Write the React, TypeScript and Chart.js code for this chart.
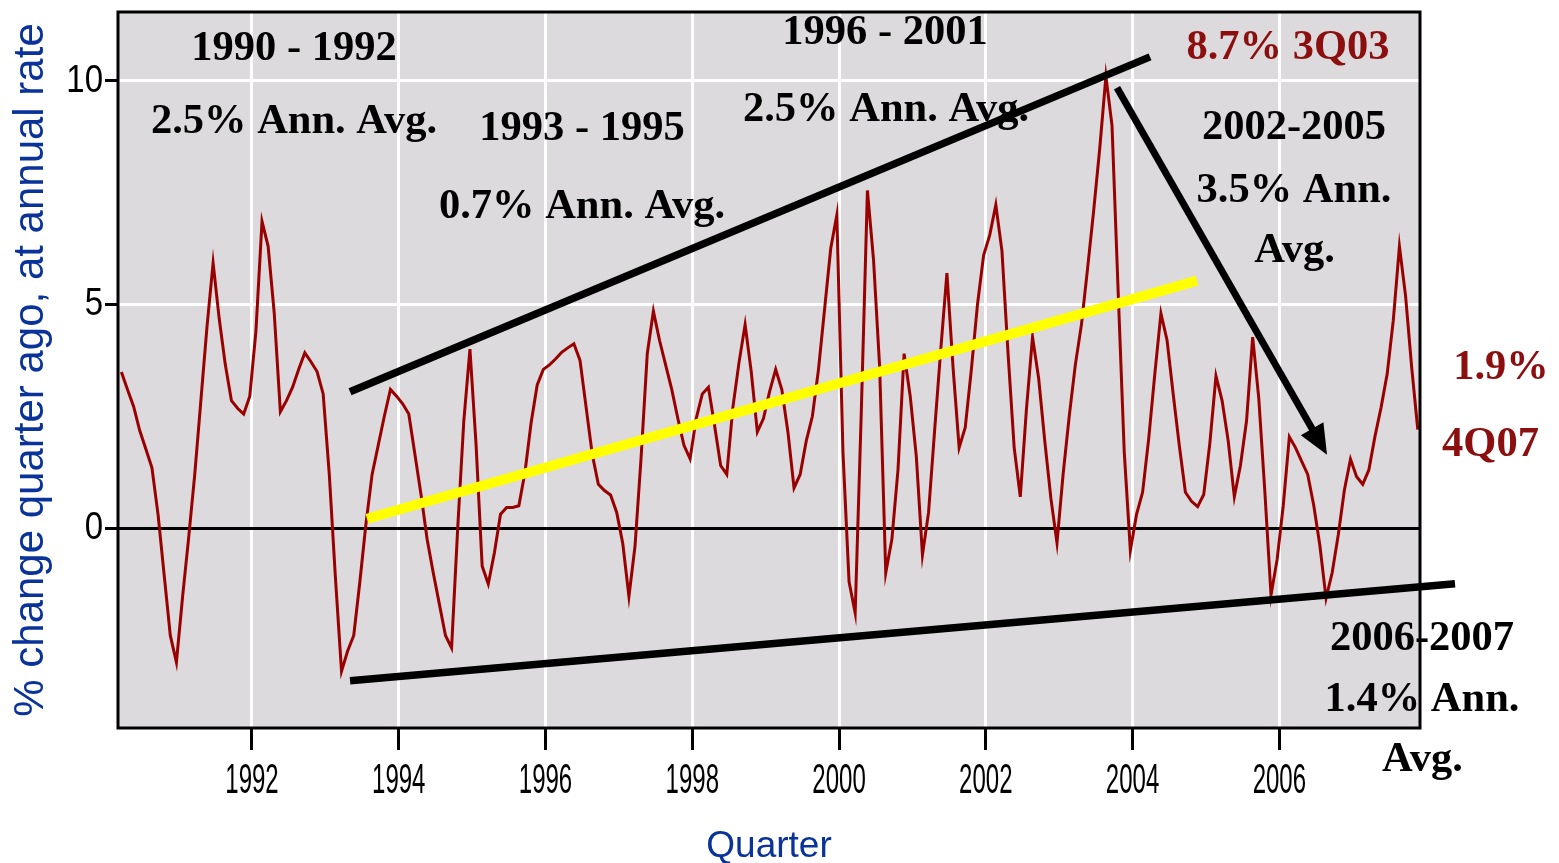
import React, { useEffect, useRef } from 'react';
import { Chart, registerables } from 'chart.js';

Chart.register(...registerables);

// ---- data -------------------------------------------------------------
const START_YEAR = 1990.22; // first monthly observation (decimal year)

const GROWTH: number[] = [
  3.49, 3.1, 2.72, 2.18, 1.77, 1.35, 0.3, -1.05, -2.4, -3.0,
  -1.55, -0.22, 1.2, 2.85, 4.5, 5.93, 4.68, 3.65, 2.85, 2.68,
  2.55, 2.95, 4.4, 6.86, 6.3, 4.8, 2.6, 2.85, 3.15, 3.55,
  3.92, 3.72, 3.5, 3.0, 1.2, -1.1, -3.2, -2.75, -2.4, -1.2,
  0.1, 1.2, 1.85, 2.5, 3.1, 2.95, 2.78, 2.55, 1.65, 0.75,
  -0.25, -1.0, -1.7, -2.4, -2.68, 0.0, 2.4, 4.0, 1.87, -0.85,
  -1.25, -0.55, 0.31, 0.46, 0.46, 0.5, 1.25, 2.35, 3.2, 3.55,
  3.65, 3.78, 3.93, 4.03, 4.12, 3.75, 2.7, 1.65, 0.98, 0.84,
  0.74, 0.35, -0.35, -1.53, -0.4, 1.6, 3.9, 4.85, 4.2, 3.65,
  3.1, 2.45, 1.85, 1.55, 2.45, 3.0, 3.15, 2.3, 1.4, 1.2,
  2.7, 3.7, 4.55, 3.5, 2.15, 2.45, 3.05, 3.55, 3.1, 2.15,
  0.9, 1.2, 1.95, 2.5, 3.55, 4.9, 6.25, 7.0, 1.7, -1.2,
  -1.9, 2.6, 7.55, 6.0, 3.6, -1.0, -0.25, 1.3, 3.9, 2.95,
  1.6, -0.6, 0.35, 2.2, 4.0, 5.7, 3.6, 1.8, 2.25, 3.55,
  5.0, 6.1, 6.55, 7.23, 6.2, 3.9, 1.8, 0.7, 2.65, 4.27,
  3.35, 1.95, 0.67, -0.33, 1.2, 2.5, 3.65, 4.55, 5.8, 7.1,
  8.5, 10.1, 9.0, 5.3, 1.7, -0.5, 0.3, 0.8, 2.0, 3.45,
  4.8, 4.2, 3.0, 1.85, 0.8, 0.6, 0.48, 0.75, 1.9, 3.4,
  2.85, 1.95, 0.7, 1.4, 2.4, 4.27, 2.9, 0.8, -1.5, -0.7,
  0.5, 2.04, 1.8, 1.5, 1.2, 0.5, -0.4, -1.57, -1.0, -0.15,
  0.85, 1.54, 1.15, 0.98, 1.3, 2.05, 2.7, 3.45, 4.65, 6.3,
  5.2, 3.6, 2.2,
];

const X_TICKS: number[] = [1992, 1994, 1996, 1998, 2000, 2002, 2004, 2006];
const Y_TICKS: number[] = [0, 5, 10];
const X_MIN = 1990.174;
const X_MAX = 2007.917;
const Y_MIN = -4.47;
const Y_MAX = 11.54;

const Y_TITLE = '% change quarter ago, at annual rate';
const X_TITLE = 'Quarter';

// annotation lines: [year, value] -> [year, value]
const UPPER_LINE = { from: [1993.336, 3.047], to: [2004.238, 10.537] };
const LOWER_LINE = { from: [1993.336, -3.414], to: [2008.394, -1.245] };
const TREND_LINE = { from: [1993.567, 0.208], to: [2004.878, 5.533] };
const ARROW_LINE = { from: [2003.788, 9.844], to: [2006.65, 1.639] };

// notes: text, centre year, baseline value, colour
const NOTE_TEXT: string[] = [
  '1990 - 1992', '2.5% Ann. Avg.', '1993 - 1995', '0.7% Ann. Avg.',
  '1996 - 2001', '2.5% Ann. Avg.', '8.7% 3Q03', '2002-2005',
  '3.5% Ann.', 'Avg.', '1.9%', '4Q07', '2006-2007', '1.4% Ann.', 'Avg.',
];
const NOTE_YEAR: number[] = [
  1992.572, 1992.572, 1996.497, 1996.497,
  2000.626, 2000.64, 2006.118, 2006.2,
  2006.2, 2006.207, 2009.02, 2008.878, 2007.944, 2007.944, 2007.95,
];
const NOTE_VALUE: number[] = [
  10.47, 8.836, 8.68, 6.937,
  10.827, 9.106, 10.485, 8.703,
  7.302, 5.953, 3.331, 1.616, -2.736, -4.1, -5.44,
];
const NOTE_RED: boolean[] = [
  false, false, false, false, false, false, true, false,
  false, false, true, true, false, false, false,
];

// ---- styles -----------------------------------------------------------
const PLOT_BG = '#dcdadd';
const LINE_RED = '#990000';
const NOTE_DARKRED = '#8b0f0f';
const TITLE_BLUE = '#0a3399';
const NOTE_FONT = 'bold 42.5px "Liberation Serif", "Times New Roman", serif';
const X_LABEL_STRETCH = 1.75;
const Y_LABEL_STRETCH = 1.2;

const stretchLabels = (scale: any, k: number) => {
  if (!scale || scale.__stretched) return;
  const orig = scale.drawLabels;
  scale.drawLabels = function (area: any) {
    const ctx = this.ctx;
    const items = this.getLabelItems ? this.getLabelItems(area) : [];
    ctx.save();
    if (items.length) {
      const cy = items[0].options.translation[1];
      ctx.translate(0, cy);
      ctx.scale(1, k);
      ctx.translate(0, -cy);
      if (k !== 1 && !this.isHorizontal()) {
        // vertical axis: scale each label about its own centre instead
        ctx.restore();
        ctx.save();
        for (const it of items) {
          const [x, y] = it.options.translation;
          ctx.save();
          ctx.translate(x, y);
          ctx.scale(1, k);
          ctx.fillStyle = it.options.color;
          ctx.font = it.font.string;
          ctx.textAlign = it.options.textAlign;
          ctx.textBaseline = 'middle';
          ctx.fillText(String(it.label), 0, 0);
          ctx.restore();
        }
        ctx.restore();
        return;
      }
    }
    orig.call(this, area);
    ctx.restore();
  };
  scale.__stretched = true;
};

const bgPlugin = {
  id: 'plotBackground',
  beforeDraw(chart: any) {
    stretchLabels(chart.scales.x, X_LABEL_STRETCH);
    stretchLabels(chart.scales.y, Y_LABEL_STRETCH);
    const { ctx, chartArea } = chart;
    if (!chartArea) return;
    ctx.save();
    ctx.fillStyle = PLOT_BG;
    ctx.fillRect(chartArea.left, chartArea.top, chartArea.right - chartArea.left, chartArea.bottom - chartArea.top);
    ctx.restore();
  },
};

const overlayPlugin = {
  id: 'overlay',
  afterDraw(chart: any) {
    const { ctx, chartArea } = chart;
    const xs = chart.scales.x;
    const ys = chart.scales.y;
    const px = (t: number) => xs.getPixelForValue(t);
    const py = (v: number) => ys.getPixelForValue(v);

    ctx.save();
    const seg = (l: any, color: string, w: number) => {
      ctx.beginPath();
      ctx.strokeStyle = color;
      ctx.lineWidth = w;
      ctx.lineCap = 'butt';
      ctx.moveTo(px(l.from[0]), py(l.from[1]));
      ctx.lineTo(px(l.to[0]), py(l.to[1]));
      ctx.stroke();
    };
    seg(TREND_LINE, '#ffff00', 10);
    seg(UPPER_LINE, '#000000', 7.5);
    seg(LOWER_LINE, '#000000', 7.5);

    // arrow
    const x1 = px(ARROW_LINE.from[0]);
    const y1 = py(ARROW_LINE.from[1]);
    const x2 = px(ARROW_LINE.to[0]);
    const y2 = py(ARROW_LINE.to[1]);
    const ang = Math.atan2(y2 - y1, x2 - x1);
    const headLen = 30;
    const headHalf = 13;
    const bx = x2 - headLen * Math.cos(ang);
    const by = y2 - headLen * Math.sin(ang);
    ctx.beginPath();
    ctx.strokeStyle = '#000';
    ctx.lineWidth = 7;
    ctx.moveTo(x1, y1);
    ctx.lineTo(bx + 2 * Math.cos(ang), by + 2 * Math.sin(ang));
    ctx.stroke();
    ctx.beginPath();
    ctx.fillStyle = '#000';
    ctx.moveTo(x2, y2);
    ctx.lineTo(bx + headHalf * Math.sin(ang), by - headHalf * Math.cos(ang));
    ctx.lineTo(bx - headHalf * Math.sin(ang), by + headHalf * Math.cos(ang));
    ctx.closePath();
    ctx.fill();

    // notes
    ctx.font = NOTE_FONT;
    ctx.textAlign = 'center';
    ctx.textBaseline = 'alphabetic';
    NOTE_TEXT.forEach((t, i) => {
      ctx.fillStyle = NOTE_RED[i] ? NOTE_DARKRED : '#000';
      ctx.fillText(t, px(NOTE_YEAR[i]), py(NOTE_VALUE[i]));
    });

    // plot frame
    ctx.strokeStyle = '#000';
    ctx.lineWidth = 3;
    ctx.strokeRect(chartArea.left, chartArea.top, chartArea.right - chartArea.left, chartArea.bottom - chartArea.top);
    ctx.restore();
  },
};

export default function App() {
  const canvasRef = useRef<HTMLCanvasElement | null>(null);

  useEffect(() => {
    if (!canvasRef.current) return;
    const points = GROWTH.map((v, i) => ({ x: START_YEAR + i / 12, y: v }));
    const chart = new Chart(canvasRef.current, {
      type: 'line',
      data: {
        datasets: [
          {
            data: points,
            borderColor: LINE_RED,
            borderWidth: 3,
            pointRadius: 0,
            tension: 0,
            fill: false,
          },
        ],
      },
      options: {
        responsive: false,
        animation: false,
        devicePixelRatio: 1,
        parsing: false,
        layout: { padding: { top: 12, right: 139, bottom: 0, left: 0 } },
        plugins: { legend: { display: false }, tooltip: { enabled: false } },
        scales: {
          x: {
            type: 'linear',
            min: X_MIN,
            max: X_MAX,
            afterBuildTicks: (s: any) => {
              s.ticks = X_TICKS.map((value) => ({ value }));
            },
            afterFit: (s: any) => {
              s.height = 135;
              s.paddingLeft = 0;
              s.paddingRight = 0;
            },
            ticks: {
              autoSkip: false,
              maxRotation: 0,
              color: '#000',
              padding: 6,
              font: { family: '"Liberation Sans", sans-serif', size: 24, lineHeight: 1.2 },
              callback: (v: any) => String(v),
            },
            grid: {
              color: '#ffffff',
              lineWidth: 3,
              tickColor: '#000',
              tickLength: 22,
              tickWidth: 3,
            },
            border: { display: false },
            title: {
              display: true,
              text: X_TITLE,
              color: TITLE_BLUE,
              font: { family: '"Liberation Sans", sans-serif', size: 37, lineHeight: 1 },
              padding: { top: 0, bottom: -2 },
            },
          },
          y: {
            type: 'linear',
            min: Y_MIN,
            max: Y_MAX,
            afterBuildTicks: (s: any) => {
              s.ticks = Y_TICKS.map((value) => ({ value }));
            },
            afterFit: (s: any) => {
              s.width = 118;
              s.paddingTop = 0;
              s.paddingBottom = 0;
            },
            ticks: {
              autoSkip: false,
              color: '#000',
              padding: 2,
              font: { family: '"Liberation Sans", sans-serif', size: 33 },
              callback: (v: any) => String(v),
            },
            grid: {
              color: (c: any) => (c.tick && c.tick.value === 0 ? '#000000' : '#ffffff'),
              lineWidth: 3,
              tickColor: '#000',
              tickLength: 13,
              tickWidth: 3,
            },
            border: { display: false },
            title: {
              display: true,
              text: Y_TITLE,
              color: TITLE_BLUE,
              font: { family: '"Liberation Sans", sans-serif', size: 42, lineHeight: 1 },
              padding: { top: 10, bottom: 0 },
            },
          },
        },
      },
      plugins: [bgPlugin, overlayPlugin],
    } as any);
    return () => chart.destroy();
  }, []);

  return (
    <div style={{ position: 'absolute', left: 0, top: 0, width: 1559, height: 863, background: '#fff' }}>
      <canvas ref={canvasRef} width={1559} height={863} style={{ display: 'block' }} />
    </div>
  );
}
